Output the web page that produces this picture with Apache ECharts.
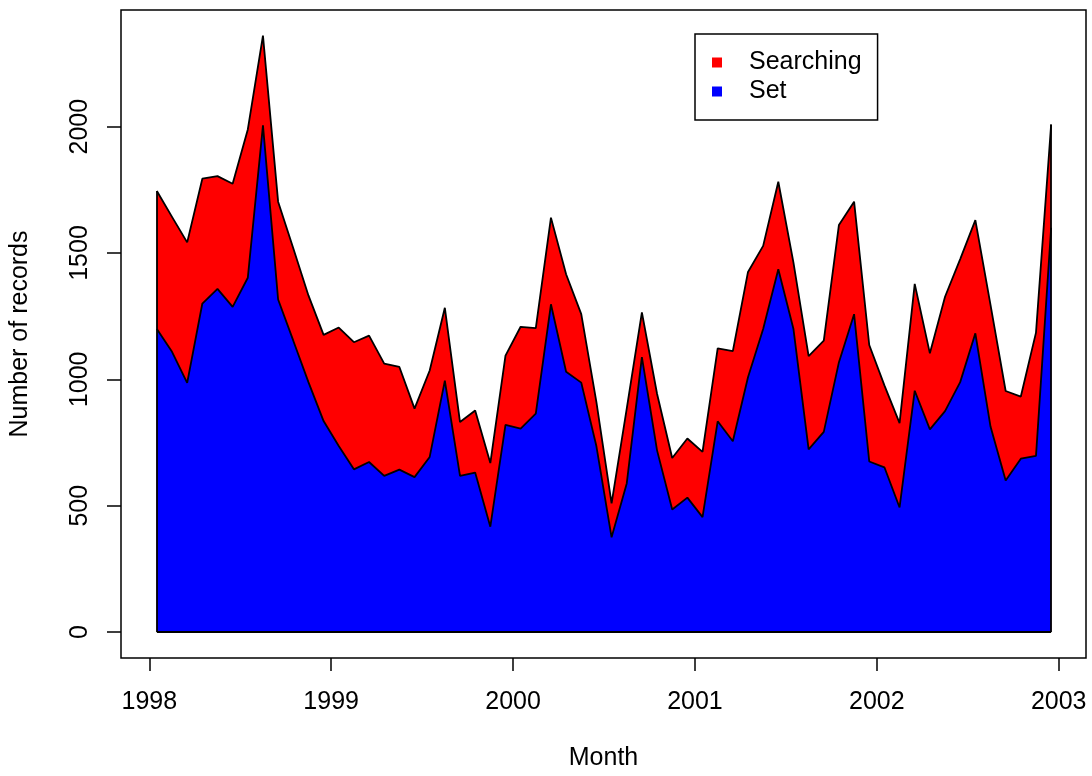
<!DOCTYPE html>
<html>
<head>
<meta charset="utf-8">
<title>Number of records per month</title>
<script src="https://cdn.jsdelivr.net/npm/echarts@6/dist/echarts.min.js"></script>
<style>
  html, body { margin: 0; padding: 0; background: #fff; }
  #main { width: 1092px; height: 776px; }
</style>
</head>
<body>
<div id="main"></div>
<script>
  // months Jan 1998 .. Dec 2002
  var startYear = 1998, nYears = 5
  var months = []
  for (var y = startYear; y < startYear + nYears; y++) {
    for (var m = 1; m <= 12; m++) months.push(y + '-' + (m < 10 ? '0' + m : m))
  }

  // records per month
  var setCounts = [
    1199, 1109, 986, 1300, 1358, 1287, 1402, 2005, 1316, 1153, 989, 835,
    736, 644, 673, 618, 643, 613, 693, 995, 618, 631, 417, 820,
    805, 864, 1297, 1030, 987, 735, 375, 588, 1088, 719, 485, 532,
    455, 834, 755, 1008, 1199, 1436, 1199, 723, 792, 1068, 1258, 675,
    652, 493, 955, 802, 874, 989, 1182, 813, 600, 686, 697, 1600
  ]
  var searchingCounts = [
    546, 534, 556, 494, 446, 487, 587, 355, 387, 366, 343, 341,
    469, 503, 500, 444, 406, 271, 342, 288, 213, 246, 252, 274,
    403, 339, 343, 386, 271, 175, 134, 296, 177, 224, 204, 234,
    258, 289, 357, 417, 329, 346, 263, 369, 361, 543, 445, 461,
    324, 334, 423, 301, 453, 487, 448, 482, 354, 246, 488, 408
  ]
  var yearTicks = [1998, 1999, 2000, 2001, 2002, 2003]
  var countTicks = [0, 500, 1000, 1500, 2000]

  var font = '"Liberation Sans", Arial, Helvetica, sans-serif'
  var fs = 25

  // mid-month as decimal year
  function monthPos(s) {
    var p = s.split('-')
    return +p[0] + (+p[1] - 0.5) / 12
  }
  var xs = months.map(monthPos)
  var setData = xs.map(function (x, i) { return [x, setCounts[i]] })
  // red layer drawn as the running total, blue layer painted over it
  var totalData = xs.map(function (x, i) { return [x, setCounts[i] + searchingCounts[i]] })

  var last = months.length - 1
  var plain = function (v) { return String(v) }

  var myChart = echarts.init(document.getElementById('main'))

  var option = {
    animation: false,
    backgroundColor: '#fff',
    textStyle: { fontFamily: font },
    grid: {
      left: 121, right: 6, top: 10, bottom: 116,
      show: true, borderColor: '#000', borderWidth: 1.5, backgroundColor: 'transparent'
    },
    legend: {
      data: [
        { name: 'Searching', itemStyle: { color: '#ff0000' } },
        { name: 'Set', itemStyle: { color: '#0000ff' } }
      ],
      orient: 'vertical',
      left: 695, top: 34,
      icon: 'rect',
      itemWidth: 10, itemHeight: 10, itemGap: 4,
      padding: [16, 16, 16, 17],
      borderColor: '#000', borderWidth: 1.5, borderRadius: 0,
      backgroundColor: '#fff',
      selectedMode: false,
      itemStyle: { borderWidth: 0 },
      textStyle: { fontFamily: font, fontSize: fs, color: '#000', padding: [0, 0, 0, 22] }
    },
    xAxis: {
      type: 'value',
      min: 1997.8445, max: 2003.15,
      name: 'Month', nameLocation: 'middle', nameGap: 88,
      nameTextStyle: { fontFamily: font, fontSize: fs, color: '#000' },
      axisLine: { show: false, onZero: false },
      axisTick: { show: true, customValues: yearTicks, length: 13, lineStyle: { color: '#000', width: 1.5 } },
      axisLabel: { customValues: yearTicks, formatter: plain, fontFamily: font, fontSize: fs, color: '#000', margin: 32 },
      splitLine: { show: false }
    },
    yAxis: {
      type: 'value',
      min: -102.6, max: 2461.5,
      name: 'Number of records', nameLocation: 'middle', nameGap: 88, nameRotate: 90,
      nameTextStyle: { fontFamily: font, fontSize: fs, color: '#000' },
      axisLine: { show: false, onZero: false },
      axisTick: { show: true, customValues: countTicks, length: 14, lineStyle: { color: '#000', width: 1.5 } },
      axisLabel: { customValues: countTicks, formatter: plain, rotate: 90, fontFamily: font, fontSize: fs, color: '#000', margin: 28 },
      splitLine: { show: false }
    },
    series: [
      {
        name: 'Searching',
        type: 'line',
        data: totalData,
        z: 2,
        symbol: 'none',
        silent: true,
        itemStyle: { color: '#ff0000' },
        lineStyle: { color: '#000', width: 1.8 },
        areaStyle: { color: '#ff0000', opacity: 1 }
      },
      {
        name: 'Set',
        type: 'line',
        data: setData,
        z: 3,
        symbol: 'none',
        silent: true,
        itemStyle: { color: '#0000ff' },
        lineStyle: { color: '#000', width: 1.8 },
        areaStyle: { color: '#0000ff', opacity: 1 },
        // closing edges of the polygons
        markLine: {
          silent: true,
          symbol: ['none', 'none'],
          label: { show: false },
          lineStyle: { color: '#000', width: 1.8, type: 'solid' },
          data: [
            [{ coord: [xs[0], 0] }, { coord: [xs[last], 0] }],
            [{ coord: [xs[0], 0] }, { coord: totalData[0] }],
            [{ coord: [xs[last], 0] }, { coord: totalData[last] }]
          ]
        }
      }
    ]
  }

  myChart.setOption(option)
</script>
</body>
</html>
